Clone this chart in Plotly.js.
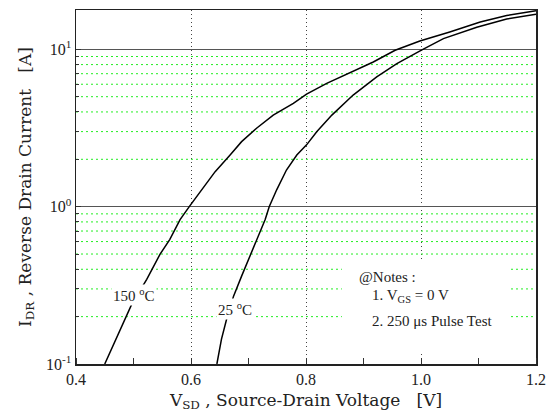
<!DOCTYPE html>
<html>
<head>
<meta charset="utf-8">
<script src="https://cdn.plot.ly/plotly-3.0.1.min.js"></script>
<style>
html,body{margin:0;padding:0;background:#fff;}
#chart{width:554px;height:420px;}
</style>
</head>
<body>
<div id="chart"></div>
<script>
// 150 °C curve
const vsd150 = [0.450,0.477,0.497,0.523,0.546,0.563,0.581,0.597,0.621,0.642,0.668,0.688,0.714,0.743,0.778,0.801,0.836,0.882,0.917,0.955,0.998,1.050,1.103,1.149,1.200];
const idr150 = [0.1,0.167,0.240,0.345,0.497,0.618,0.828,1.0,1.31,1.67,2.13,2.59,3.15,3.82,4.53,5.19,6.07,7.29,8.31,9.86,11.3,12.9,14.9,16.4,17.6];
// 25 °C curve
const vsd25 = [0.645,0.653,0.662,0.674,0.688,0.703,0.720,0.729,0.736,0.749,0.766,0.784,0.801,0.819,0.845,0.882,0.923,0.958,1.000,1.039,1.097,1.149,1.200];
const idr25 = [0.1,0.144,0.193,0.270,0.362,0.485,0.683,0.828,1.0,1.28,1.71,2.13,2.47,3.00,3.82,5.12,6.68,8.11,9.86,11.7,13.8,15.6,16.7];

const xRange = [0.4, 1.2];
const xTickVals = [0.4,0.6,0.8,1.0,1.2];
const xTickText = ['0.4','0.6','0.8','1.0','1.2'];
const yTickVals = [0.1,1,10];
const yTickText = ['10<sup>-1</sup>','10<sup>0</sup>','10<sup>1</sup>'];
const yMinorVals = [0.2,0.3,0.4,0.5,0.6,0.7,0.8,0.9,2,3,4,5,6,7,8,9];

const FONT = 'Liberation Serif, Times New Roman, serif';
const TFONT = 'DejaVu Serif, serif';
const TXT = '#222';
const NB = '\u00a0';

// minor (green dotted) grid lines, built from the minor tick values
const gx = [], gy = [];
yMinorVals.forEach(v => { gx.push(xRange[0], xRange[1], null); gy.push(v, v, null); });

const traces = [
  {x: gx, y: gy, mode: 'lines', line: {color: '#22ee22', width: 1, dash: '2px,3px'}, hoverinfo: 'skip', connectgaps: false},
  {x: vsd150, y: idr150, mode: 'lines', line: {color: '#000', width: 1.5}, name: '150 °C'},
  {x: vsd25, y: idr25, mode: 'lines', line: {color: '#000', width: 1.5}, name: '25 °C'}
];

const layout = {
  width: 554, height: 420,
  margin: {l: 76, r: 18, t: 10, b: 56},
  paper_bgcolor: '#fff', plot_bgcolor: '#fff',
  showlegend: false,
  font: {family: FONT, size: 15, color: TXT},
  xaxis: {
    range: xRange,
    tickmode: 'array', tickvals: xTickVals, ticktext: xTickText,
    showgrid: true, gridcolor: '#444', griddash: '1px,3px', gridwidth: 1,
    ticks: '',
    minor: {dtick: 0.1, tick0: 0.4, ticks: 'inside', ticklen: 6, tickcolor: '#333', tickwidth: 1, showgrid: false},
    showline: true, linecolor: '#222', linewidth: 1.5, mirror: true,
    zeroline: false,
    tickfont: {family: FONT, size: 16, color: TXT},
    title: {text: 'V<sub>SD</sub>' + NB + ',' + NB + 'Source-Drain Voltage' + NB + NB + NB + '[V]', font: {family: TFONT, size: 17, color: TXT}, standoff: 7}
  },
  yaxis: {
    type: 'log',
    range: [-1, 1.25],
    tickmode: 'array', tickvals: yTickVals, ticktext: yTickText,
    showgrid: true, gridcolor: '#555', gridwidth: 1.2,
    ticks: 'inside', ticklen: 5, tickcolor: '#333',
    minor: {tickmode: 'array', tickvals: yMinorVals, ticks: 'inside', ticklen: 3, tickcolor: '#333', showgrid: false},
    showline: true, linecolor: '#222', linewidth: 1.5, mirror: true,
    zeroline: false,
    tickfont: {family: FONT, size: 16, color: TXT},
    title: {text: 'I<sub>DR</sub>' + NB + ',' + NB + 'Reverse Drain Current' + NB + NB + NB + '[A]', font: {family: TFONT, size: 17, color: TXT}, standoff: 10}
  },
  shapes: [
    {type: 'rect', xref: 'paper', yref: 'paper', x0: 0.578, x1: 0.943, y0: 0.034, y1: 0.288,
     fillcolor: '#fff', line: {width: 0}, layer: 'above'}
  ],
  annotations: [
    {xref: 'x', yref: 'y', x: 0.501, y: -0.563, text: '150 <sup>o</sup>C', showarrow: false,
     bgcolor: '#fff', font: {family: FONT, size: 15, color: TXT}, borderpad: 1},
    {xref: 'x', yref: 'y', x: 0.6765, y: -0.652, text: '25 <sup>o</sup>C', showarrow: false,
     bgcolor: '#fff', font: {family: FONT, size: 15, color: TXT}, borderpad: 1},
    {xref: 'paper', yref: 'paper', x: 0.611, y: 0.2175, xanchor: 'left', text: '@Notes :', showarrow: false,
     font: {family: FONT, size: 15, color: TXT}},
    {xref: 'paper', yref: 'paper', x: 0.639, y: 0.161, xanchor: 'left', text: '1. V<sub>GS</sub> = 0 V', showarrow: false,
     font: {family: FONT, size: 15, color: TXT}},
    {xref: 'paper', yref: 'paper', x: 0.639, y: 0.093, xanchor: 'left', text: '2. 250 μs Pulse Test', showarrow: false,
     font: {family: FONT, size: 15, color: TXT}}
  ]
};

Plotly.newPlot('chart', traces, layout, {staticPlot: true, displayModeBar: false});
</script>
</body>
</html>
